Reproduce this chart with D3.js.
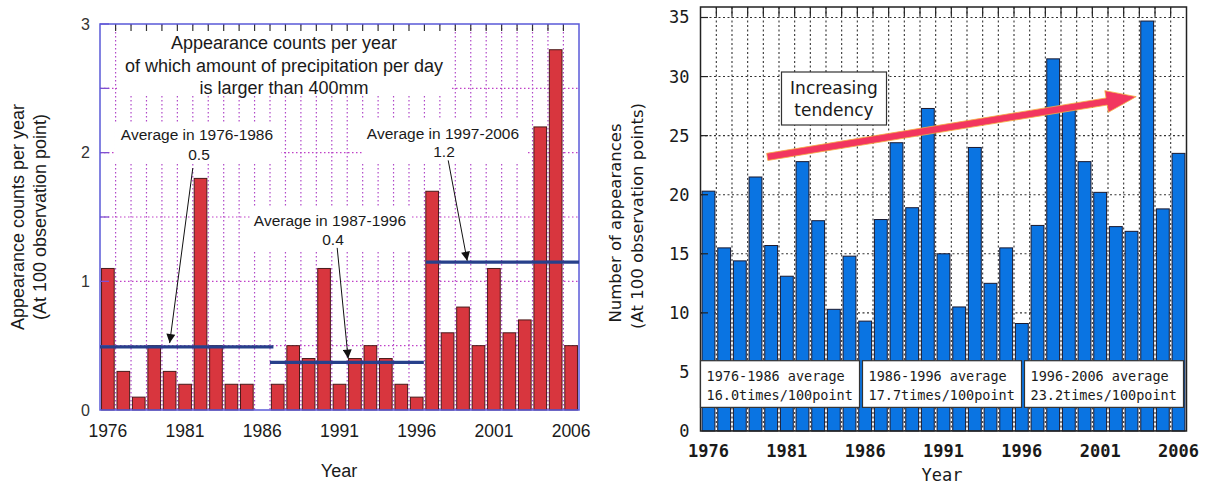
<!DOCTYPE html>
<html><head><meta charset="utf-8">
<script src="https://cdn.jsdelivr.net/npm/d3@7"></script>
<style>body{margin:0;background:#fff}</style>
</head><body><svg id="c" width="1205" height="484"></svg>
<script>
// ---------- data ----------
const years = [1976,1977,1978,1979,1980,1981,1982,1983,1984,1985,1986,1987,1988,1989,1990,1991,
  1992,1993,1994,1995,1996,1997,1998,1999,2000,2001,2002,2003,2004,2005,2006];
const leftValues = [1.1,0.3,0.1,0.5,0.3,0.2,1.8,0.5,0.2,0.2,0,
  0.2,0.5,0.4,1.1,0.2,0.4,0.5,0.4,0.2,0.1,
  1.7,0.6,0.8,0.5,1.1,0.6,0.7,2.2,2.8,0.5];
const rightValues = [20.3,15.5,14.4,21.5,15.7,13.1,22.8,17.8,10.3,14.8,9.3,
  17.9,24.4,18.9,27.3,15.0,10.5,24.0,12.5,15.5,9.1,
  17.4,31.5,27.2,22.8,20.2,17.3,16.9,34.7,18.8,23.5];
const xTickYears = [1976,1981,1986,1991,1996,2001,2006];
const leftYTicks = [0,1,2,3];
const leftGridLevels = [0.5,1,1.5,2,2.5,3];
const rightYTicks = [0,5,10,15,20,25,30,35];
const leftTitle = ["Appearance counts per year","of which amount of precipitation per day","is larger than 400mm"];
const leftAvgLabels = ["Average in 1976-1986","Average in 1987-1996","Average in 1997-2006"];
const leftAvgValues = ["0.5","0.4","1.2"];
const leftAvgLevels = [0.49,0.37,1.15];
const rightAvgPeriods = ["1976-1986 average","1986-1996 average","1996-2006 average"];
const rightAvgTexts = ["16.0times/100point","17.7times/100point","23.2times/100point"];

const svg = d3.select("#c");
const defs = svg.append("defs");
defs.append("marker").attr("id","ah").attr("viewBox","0 0 10 10").attr("refX",10).attr("refY",5)
  .attr("markerWidth",14).attr("markerHeight",9).attr("markerUnits","userSpaceOnUse").attr("orient","auto")
  .append("path").attr("d","M0,0 L10,5 L0,10 Z").attr("fill","#111");

// ================= LEFT CHART =================
const xL = d3.scaleBand().domain(years).range([100,579]).paddingInner(0.18).paddingOuter(0.1);
const yL = d3.scaleLinear().domain([0,3]).range([410,24]);
const gL = svg.append("g");
const gapL = xL.step()*xL.paddingInner()/2;
const bL = years.slice(1).map(y => xL(y) - gapL);
// grid
gL.selectAll(".hg").data(leftGridLevels.slice(0,5)).join("line")
  .attr("x1",100).attr("x2",579).attr("y1",d=>yL(d)).attr("y2",d=>yL(d))
  .attr("stroke","#c040c8").attr("stroke-width",1.2).attr("stroke-dasharray","1.5 2.5");
gL.selectAll(".vg").data(bL).join("line")
  .attr("x1",d=>d).attr("x2",d=>d).attr("y1",yL(3)).attr("y2",yL(0))
  .attr("stroke","#b048c8").attr("stroke-width",1.2).attr("stroke-dasharray","1.5 2.5");
// white label backgrounds
[[117,28,334,68],[115,122,166,42],[250,208,162,42],[362,120,164,42]].forEach(r=>{
  gL.append("rect").attr("x",r[0]).attr("y",r[1]).attr("width",r[2]).attr("height",r[3]).attr("fill","#fff");
});
// bars
gL.selectAll(".bar").data(years.map((y,i)=>({y,v:leftValues[i]})).filter(d=>d.v>0)).join("rect")
  .attr("x",d=>xL(d.y)).attr("width",xL.bandwidth())
  .attr("y",d=>yL(d.v)).attr("height",d=>yL(0)-yL(d.v))
  .attr("fill","#d8363e").attr("stroke","#4a1a1a").attr("stroke-width",1);
// left ticks
gL.selectAll(".lt").data(leftGridLevels).join("line")
  .attr("x1",100).attr("x2",109).attr("y1",d=>yL(d)).attr("y2",d=>yL(d))
  .attr("stroke","#8050d0").attr("stroke-width",1.3);
gL.selectAll(".tt").data(bL).join("line")
  .attr("x1",d=>d).attr("x2",d=>d).attr("y1",yL(3)).attr("y2",yL(3)+7)
  .attr("stroke","#333").attr("stroke-width",1.2);
// frame
gL.append("rect").attr("x",100).attr("y",yL(3)).attr("width",479).attr("height",yL(0)-yL(3))
  .attr("fill","none").attr("stroke","#5a5ad8").attr("stroke-width",1.5);
// average lines
const avgSpans = [[100, xL(1987)+2],[xL(1987)-1.5, xL(1997)-2],[xL(1997), 579]];
avgSpans.forEach((s,i)=>{
  gL.append("line").attr("x1",s[0]).attr("x2",s[1]).attr("y1",yL(leftAvgLevels[i])).attr("y2",yL(leftAvgLevels[i]))
    .attr("stroke","#27408b").attr("stroke-width",3.2);
});
// axes
const axLB = d3.axisBottom(xL).tickValues(xTickYears).tickSize(0).tickPadding(15);
gL.append("g").attr("transform","translate(0,410)").call(axLB)
  .call(g=>g.select(".domain").remove())
  .selectAll("text").attr("font-family","Liberation Sans, Arial, sans-serif").attr("font-size",17.5).attr("fill","#1a1a1a");
const axLL = d3.axisLeft(yL).tickValues(leftYTicks).tickFormat(d3.format("d")).tickSize(0).tickPadding(10);
gL.append("g").attr("transform","translate(100,0)").call(axLL)
  .call(g=>g.select(".domain").remove())
  .selectAll("text").attr("font-family","Liberation Sans, Arial, sans-serif").attr("font-size",16).attr("fill","#333");
const fL = "Liberation Sans, Arial, sans-serif";
gL.append("text").attr("x",339).attr("y",477).attr("text-anchor","middle").attr("font-family",fL).attr("font-size",18).attr("fill","#1a1a1a").text("Year");
gL.append("text").attr("transform","translate(24,217) rotate(-90)").attr("text-anchor","middle").attr("font-family",fL).attr("font-size",18).attr("fill","#1a1a1a").text("Appearance counts per year");
gL.append("text").attr("transform","translate(46,217) rotate(-90)").attr("text-anchor","middle").attr("font-family",fL).attr("font-size",18).attr("fill","#1a1a1a").text("(At 100 observation point)");
// title
leftTitle.forEach((t,i)=>{
  gL.append("text").attr("x",284).attr("y",49+i*22.5).attr("text-anchor","middle").attr("font-family",fL)
    .attr("font-size",18).attr("fill","#1a1a1a").text(t);
});
// annotations
const annPos = [[197,140,199,160],[330,226,333,245],[443,139,444,157]];
annPos.forEach((p,i)=>{
  gL.append("text").attr("x",p[0]).attr("y",p[1]).attr("text-anchor","middle").attr("font-family",fL).attr("font-size",15.5).attr("fill","#1a1a1a").text(leftAvgLabels[i]);
  gL.append("text").attr("x",p[2]).attr("y",p[3]).attr("text-anchor","middle").attr("font-family",fL).attr("font-size",15.5).attr("fill","#1a1a1a").text(leftAvgValues[i]);
});
const xcL = yr => xL(1976) + xL.bandwidth()/2 + (yr-1976)*xL.step();
const leftArrows = [[1981.5,1.88,1980.0,0.52],[1990.85,1.26,1991.56,0.40],[1998.04,1.94,1999.27,1.16]];
leftArrows.forEach(a=>{
  gL.append("line").attr("x1",xcL(a[0])).attr("y1",yL(a[1])).attr("x2",xcL(a[2])).attr("y2",yL(a[3]))
    .attr("stroke","#111").attr("stroke-width",1).attr("marker-end","url(#ah)");
});

// ================= RIGHT CHART =================
const xR = d3.scaleBand().domain(years).range([700.5,1186.5]).paddingInner(0.18).paddingOuter(0.1);
const yR = d3.scaleLinear().domain([0,35]).range([431,17.5]);
const gR = svg.append("g");
const gapR = xR.step()*xR.paddingInner()/2;
const bR = years.slice(1).map(y => xR(y) - gapR);
const topR = 7;
gR.selectAll(".hg").data(rightYTicks.slice(1)).join("line")
  .attr("x1",700.5).attr("x2",1186.5).attr("y1",d=>yR(d)).attr("y2",d=>yR(d))
  .attr("stroke","#333").attr("stroke-width",1.1).attr("stroke-dasharray","2 2.5");
gR.selectAll(".vg").data(bR).join("line")
  .attr("x1",d=>d).attr("x2",d=>d).attr("y1",topR).attr("y2",yR(0))
  .attr("stroke","#333").attr("stroke-width",1.1).attr("stroke-dasharray","2 2.5");
gR.selectAll(".bar").data(years.map((y,i)=>({y,v:rightValues[i]}))).join("rect")
  .attr("x",d=>xR(d.y)).attr("width",xR.bandwidth())
  .attr("y",d=>yR(d.v)).attr("height",d=>yR(0)-yR(d.v))
  .attr("fill","#0a74e2").attr("stroke","#1a1a30").attr("stroke-width",1);
gR.selectAll(".tt").data(bR).join("line")
  .attr("x1",d=>d).attr("x2",d=>d).attr("y1",topR).attr("y2",topR+9)
  .attr("stroke","#222").attr("stroke-width",1.2);
gR.selectAll(".lt").data(rightYTicks.slice(1)).join("line")
  .attr("x1",700.5).attr("x2",708).attr("y1",d=>yR(d)).attr("y2",d=>yR(d))
  .attr("stroke","#222").attr("stroke-width",1.2);
gR.append("rect").attr("x",700.5).attr("y",topR).attr("width",486).attr("height",yR(0)-topR)
  .attr("fill","none").attr("stroke","#222").attr("stroke-width",1.5);
// average boxes
const boxW = 159, boxGap = 3;
rightAvgPeriods.forEach((p,i)=>{
  const bx = 700.5 + i*(boxW+boxGap);
  gR.append("rect").attr("x",bx).attr("y",yR(5.95)).attr("width",boxW).attr("height",yR(2.0)-yR(5.95))
    .attr("fill","#fff").attr("stroke","#333").attr("stroke-width",1.2);
  gR.append("text").attr("x",bx+6).attr("y",yR(5.95)+20).attr("font-family","DejaVu Sans Mono, monospace").attr("font-size",13.5).attr("fill","#1a1a1a").text(p);
  gR.append("text").attr("x",bx+6).attr("y",yR(5.95)+39).attr("font-family","DejaVu Sans Mono, monospace").attr("font-size",13.5).attr("fill","#1a1a1a").text(rightAvgTexts[i]);
});
// axes
const fR = "DejaVu Sans Mono, monospace";
const axRB = d3.axisBottom(xR).tickValues(xTickYears).tickSize(0).tickPadding(14);
gR.append("g").attr("transform",`translate(0,${yR(0)})`).call(axRB)
  .call(g=>g.select(".domain").remove())
  .selectAll("text").attr("font-family",fR).attr("font-size",17).attr("font-weight","bold").attr("fill","#1a1a1a");
const axRL = d3.axisLeft(yR).tickValues(rightYTicks).tickSize(0).tickPadding(11);
gR.append("g").attr("transform","translate(700.5,0)").call(axRL)
  .call(g=>g.select(".domain").remove())
  .selectAll("text").attr("font-family",fR).attr("font-size",17).attr("fill","#1a1a1a");
gR.append("text").attr("x",942).attr("y",481).attr("text-anchor","middle").attr("font-family",fR).attr("font-size",17).attr("fill","#1a1a1a").text("Year");
gR.append("text").attr("transform","translate(621,223) rotate(-90)").attr("text-anchor","middle").attr("font-family","DejaVu Sans, sans-serif").attr("font-size",16.5).attr("fill","#1a1a1a").text("Number of appearances");
gR.append("text").attr("transform","translate(643,216) rotate(-90)").attr("text-anchor","middle").attr("font-family","DejaVu Sans, sans-serif").attr("font-size",16.5).attr("fill","#1a1a1a").text("(At 100 observation points)");
// Increasing tendency box
gR.append("rect").attr("x",781.5).attr("y",72).attr("width",105).attr("height",53)
  .attr("fill","#fff").attr("stroke","#333").attr("stroke-width",1.2);
gR.append("text").attr("x",834).attr("y",94).attr("text-anchor","middle").attr("font-family","DejaVu Sans, sans-serif").attr("font-size",17).attr("fill","#1a1a1a").text("Increasing");
gR.append("text").attr("x",834).attr("y",116).attr("text-anchor","middle").attr("font-family","DejaVu Sans, sans-serif").attr("font-size",17).attr("fill","#1a1a1a").text("tendency");
// trend arrow
const xcR = yr => xR(1976) + xR.bandwidth()/2 + (yr-1976)*xR.step();
const S = [xcR(1979.75), yR(23.2)], T = [xcR(2003.3), yR(28.3)];
const dx = T[0]-S[0], dy = T[1]-S[1], len = Math.hypot(dx,dy);
const ux = dx/len, uy = dy/len, nx = -uy, ny = ux;
const hl = 30, sw = 3.6, hw = 11;
const B = [T[0]-ux*hl, T[1]-uy*hl];
const pts = [
  [S[0]+nx*sw, S[1]+ny*sw],[B[0]+nx*sw, B[1]+ny*sw],[B[0]+nx*hw, B[1]+ny*hw],T,
  [B[0]-nx*hw, B[1]-ny*hw],[B[0]-nx*sw, B[1]-ny*sw],[S[0]-nx*sw, S[1]-ny*sw]];
gR.append("path").attr("d","M"+pts.map(p=>p.join(",")).join("L")+"Z")
  .attr("fill","#f2365f").attr("stroke","#f5b040").attr("stroke-width",0.8);
</script></body></html>
